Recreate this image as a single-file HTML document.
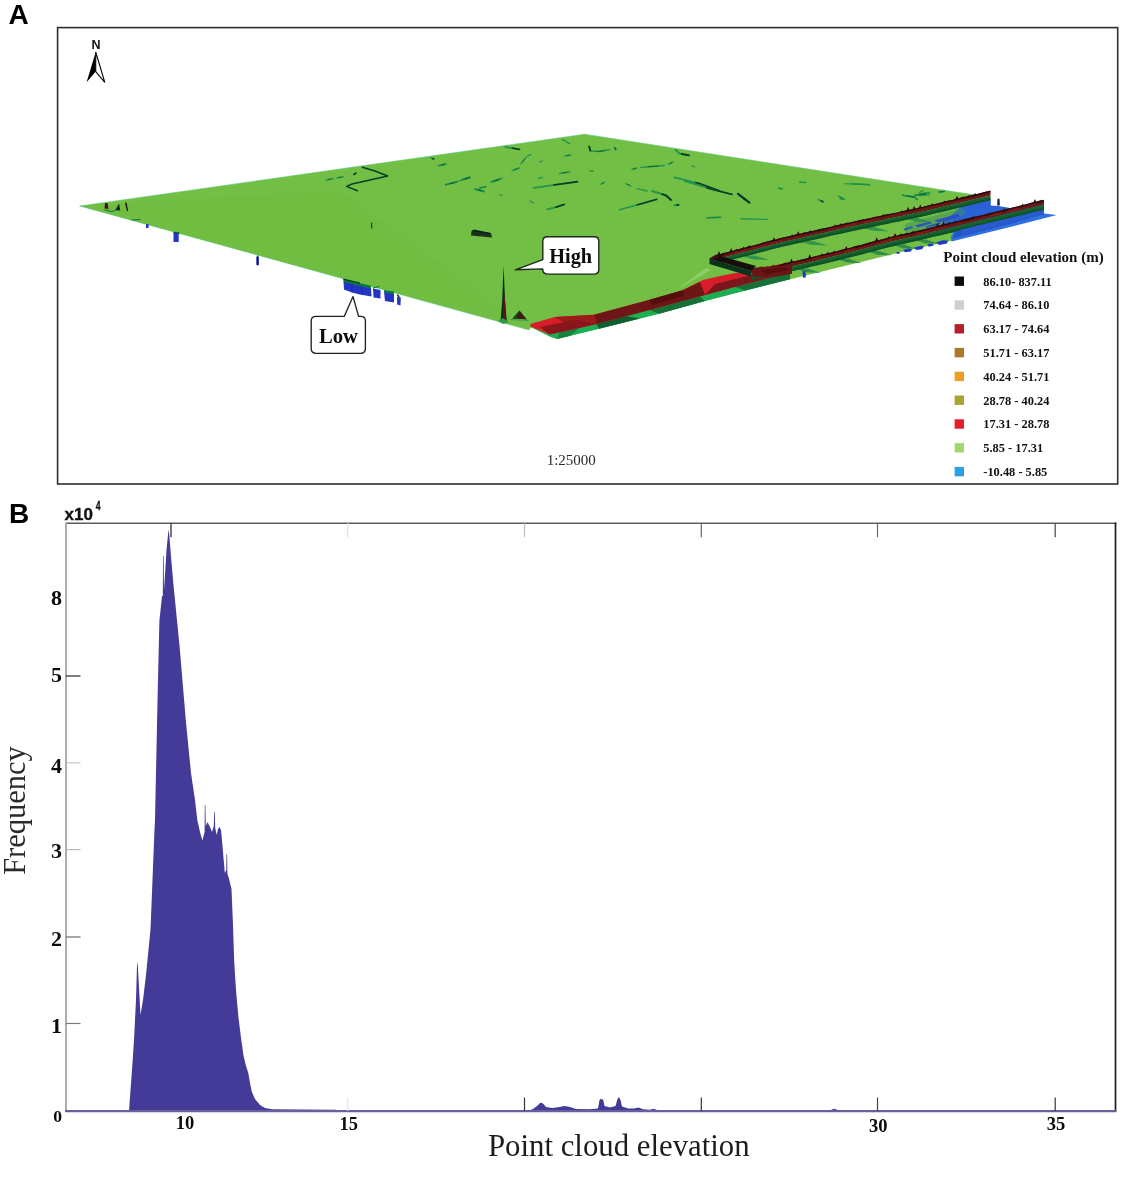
<!DOCTYPE html>
<html lang="en">
<head>
<meta charset="utf-8">
<title>Point cloud elevation figure</title>
<style>
  html,body{margin:0;padding:0;background:#fff;}
  body{width:1123px;height:1185px;overflow:hidden;}
  svg{display:block;}
  .serif{font-family:"Liberation Serif","Times New Roman",serif;}
  .sans{font-family:"Liberation Sans",Arial,sans-serif;}
  .b{font-weight:bold;}
</style>
</head>
<body>
<svg width="1123" height="1185" viewBox="0 0 1123 1185">
<defs>
  <filter id="soft" x="-5%" y="-5%" width="110%" height="110%"><feGaussianBlur stdDeviation="0.45"/></filter>
  <filter id="soft2" x="-5%" y="-5%" width="110%" height="110%"><feGaussianBlur stdDeviation="0.35"/></filter>
</defs>
<rect x="0" y="0" width="1123" height="1185" fill="#ffffff"/>

<!-- ================= PANEL A ================= -->
<text x="8.5" y="24" class="sans b" font-size="28" fill="#000">A</text>
<rect x="57.6" y="27.6" width="1060.1" height="456.4" fill="none" stroke="#2e2e2e" stroke-width="1.6"/>

<!-- north arrow -->
<g id="north">
  <text x="96" y="48.5" class="sans b" font-size="12.5" text-anchor="middle" fill="#111">N</text>
  <path d="M95.7 52 L86.6 82.3 L95.7 71.5 Z" fill="#000"/>
  <path d="M95.7 52 L104.8 82.3 L95.7 71.5 Z" fill="#fff" stroke="#000" stroke-width="1.1" stroke-linejoin="miter"/>
</g>

<!-- terrain -->
<g id="terrain" filter="url(#soft)">
<polygon points="80.0,206.0 584.6,134.2 972.0,194.5 989.0,199.0 989.0,214.0 955.0,240.0 910.0,250.0 780.0,281.7 705.0,301.0 659.0,313.7 599.0,328.7 557.0,339.0 549.0,335.6 531.0,327.6 529.4,329.8" fill="#73bf45" />
<polygon points="80.0,206.0 340.0,190.0 529.0,330.0" fill="#6fbb41" opacity="0.5"/>
<polyline points="80.0,206.0 584.6,134.2 975.0,195.0" fill="none" stroke="#58c878" stroke-width="0.8" stroke-linecap="round" stroke-linejoin="round" opacity="0.7"/>
<polyline points="80.0,206.0 529.0,330.0" fill="none" stroke="#48c070" stroke-width="0.8" stroke-linecap="round" stroke-linejoin="round" opacity="0.7"/>
<polygon points="706.0,268.0 711.0,270.0 692.0,281.0 676.0,290.0" fill="#a4d98a" opacity="0.55"/>
<polyline points="362.3,167.2 375.0,171.0 387.7,176.0 370.0,180.0 352.0,184.0 346.6,186.4 357.4,190.7" fill="none" stroke="#0a3d28" stroke-width="1.5" stroke-linecap="round" stroke-linejoin="round" />
<polyline points="326.0,180.0 333.0,178.7" fill="none" stroke="#178c50" stroke-width="1.5" stroke-linecap="round" stroke-linejoin="round" opacity="0.85"/>
<polyline points="326.0,180.0 333.0,178.7" fill="none" stroke="#0b5a34" stroke-width="0.8" stroke-linecap="butt" stroke-linejoin="round" stroke-dasharray="0 2.1 3.2 7.1"/>
<polyline points="337.0,178.0 343.0,176.8" fill="none" stroke="#178c50" stroke-width="1.5" stroke-linecap="round" stroke-linejoin="round" opacity="0.85"/>
<polyline points="337.0,178.0 343.0,176.8" fill="none" stroke="#0b5a34" stroke-width="0.8" stroke-linecap="butt" stroke-linejoin="round" stroke-dasharray="0 1.8 2.8 6.1"/>
<polyline points="354.0,174.5 356.0,173.0" fill="none" stroke="#0a3d28" stroke-width="1.6" stroke-linecap="round" stroke-linejoin="round" />
<polyline points="438.7,165.8 446.0,164.3" fill="none" stroke="#178c50" stroke-width="1.6" stroke-linecap="round" stroke-linejoin="round" opacity="0.85"/>
<polyline points="438.7,165.8 446.0,164.3" fill="none" stroke="#0b5a34" stroke-width="0.8800000000000001" stroke-linecap="butt" stroke-linejoin="round" stroke-dasharray="0 2.2 3.4 7.5"/>
<polyline points="445.6,184.8 457.0,182.0" fill="none" stroke="#178c50" stroke-width="1.6" stroke-linecap="round" stroke-linejoin="round" opacity="0.85"/>
<polyline points="445.6,184.8 457.0,182.0" fill="none" stroke="#0b5a34" stroke-width="0.8800000000000001" stroke-linecap="butt" stroke-linejoin="round" stroke-dasharray="0 3.5 5.3 11.7"/>
<polyline points="461.0,180.5 470.0,177.3" fill="none" stroke="#178c50" stroke-width="1.7" stroke-linecap="round" stroke-linejoin="round" opacity="0.85"/>
<polyline points="461.0,180.5 470.0,177.3" fill="none" stroke="#083a26" stroke-width="1.5" stroke-linecap="butt" stroke-linejoin="round" stroke-dasharray="0 4.3 5.7"/>
<polyline points="475.0,188.8 483.7,191.0" fill="none" stroke="#178c50" stroke-width="1.6" stroke-linecap="round" stroke-linejoin="round" opacity="0.85"/>
<polyline points="475.0,188.8 483.7,191.0" fill="none" stroke="#0b5a34" stroke-width="0.8800000000000001" stroke-linecap="butt" stroke-linejoin="round" stroke-dasharray="0 2.7 4.0 9.0"/>
<polyline points="480.0,188.0 486.0,186.5" fill="none" stroke="#178c50" stroke-width="1.4" stroke-linecap="round" stroke-linejoin="round" opacity="0.85"/>
<polyline points="491.6,182.0 500.0,179.5" fill="none" stroke="#178c50" stroke-width="1.5" stroke-linecap="round" stroke-linejoin="round" opacity="0.85"/>
<polyline points="491.6,182.0 500.0,179.5" fill="none" stroke="#0b5a34" stroke-width="0.8" stroke-linecap="butt" stroke-linejoin="round" stroke-dasharray="0 2.6 3.9 8.8"/>
<polyline points="371.7,223.0 371.7,228.0" fill="none" stroke="#123" stroke-width="1.0" stroke-linecap="round" stroke-linejoin="round" />
<polyline points="431.0,158.0 434.0,159.0" fill="none" stroke="#178c50" stroke-width="1.8" stroke-linecap="round" stroke-linejoin="round" opacity="0.85"/>
<polyline points="431.0,158.0 434.0,159.0" fill="none" stroke="#083a26" stroke-width="1.6" stroke-linecap="butt" stroke-linejoin="round" stroke-dasharray="0 1.4 1.9"/>
<polyline points="505.3,146.9 519.8,149.4" fill="none" stroke="#178c50" stroke-width="1.7" stroke-linecap="round" stroke-linejoin="round" opacity="0.85"/>
<polyline points="505.3,146.9 519.8,149.4" fill="none" stroke="#083a26" stroke-width="1.5" stroke-linecap="butt" stroke-linejoin="round" stroke-dasharray="0 6.6 8.8"/>
<polyline points="440.0,165.4 445.5,163.6" fill="none" stroke="#178c50" stroke-width="1.5" stroke-linecap="round" stroke-linejoin="round" opacity="0.85"/>
<polyline points="440.0,165.4 445.5,163.6" fill="none" stroke="#0b5a34" stroke-width="0.8" stroke-linecap="butt" stroke-linejoin="round" stroke-dasharray="0 1.7 2.6 5.8"/>
<polyline points="445.5,184.8 458.7,181.1" fill="none" stroke="#178c50" stroke-width="1.5" stroke-linecap="round" stroke-linejoin="round" opacity="0.85"/>
<polyline points="445.5,184.8 458.7,181.1" fill="none" stroke="#0b5a34" stroke-width="0.8" stroke-linecap="butt" stroke-linejoin="round" stroke-dasharray="0 4.1 6.2 13.7"/>
<polyline points="461.2,179.8 469.9,177.3" fill="none" stroke="#178c50" stroke-width="1.5" stroke-linecap="round" stroke-linejoin="round" opacity="0.85"/>
<polyline points="461.2,179.8 469.9,177.3" fill="none" stroke="#0b5a34" stroke-width="0.8" stroke-linecap="butt" stroke-linejoin="round" stroke-dasharray="0 2.7 4.1 9.1"/>
<polyline points="474.9,189.3 484.4,191.8" fill="none" stroke="#178c50" stroke-width="1.5" stroke-linecap="round" stroke-linejoin="round" opacity="0.85"/>
<polyline points="474.9,189.3 484.4,191.8" fill="none" stroke="#0b5a34" stroke-width="0.8" stroke-linecap="butt" stroke-linejoin="round" stroke-dasharray="0 2.9 4.4 9.8"/>
<polyline points="479.9,187.8 486.1,186.6" fill="none" stroke="#178c50" stroke-width="1.3" stroke-linecap="round" stroke-linejoin="round" opacity="0.85"/>
<polyline points="491.1,181.8 502.3,178.1" fill="none" stroke="#178c50" stroke-width="1.5" stroke-linecap="round" stroke-linejoin="round" opacity="0.85"/>
<polyline points="491.1,181.8 502.3,178.1" fill="none" stroke="#0b5a34" stroke-width="0.8" stroke-linecap="butt" stroke-linejoin="round" stroke-dasharray="0 3.5 5.3 11.8"/>
<polyline points="512.3,170.6 519.3,167.9" fill="none" stroke="#178c50" stroke-width="1.6" stroke-linecap="round" stroke-linejoin="round" opacity="0.85"/>
<polyline points="512.3,170.6 519.3,167.9" fill="none" stroke="#0b5a34" stroke-width="0.8800000000000001" stroke-linecap="butt" stroke-linejoin="round" stroke-dasharray="0 2.3 3.4 7.5"/>
<polyline points="521.0,163.6 526.0,157.4" fill="none" stroke="#178c50" stroke-width="1.5" stroke-linecap="round" stroke-linejoin="round" opacity="0.85"/>
<polyline points="521.0,163.6 526.0,157.4" fill="none" stroke="#0b5a34" stroke-width="0.8" stroke-linecap="butt" stroke-linejoin="round" stroke-dasharray="0 2.4 3.6 8.0"/>
<polyline points="527.3,156.1 531.0,154.4" fill="none" stroke="#178c50" stroke-width="1.3" stroke-linecap="round" stroke-linejoin="round" opacity="0.85"/>
<polyline points="533.5,187.8 549.7,185.6 569.7,182.8 577.7,181.6" fill="none" stroke="#178c50" stroke-width="1.8" stroke-linecap="round" stroke-linejoin="round" opacity="0.85"/>
<polyline points="533.5,187.8 549.7,185.6 569.7,182.8 577.7,181.6" fill="none" stroke="#083a26" stroke-width="1.6" stroke-linecap="butt" stroke-linejoin="round" stroke-dasharray="0 20.1 26.7"/>
<polyline points="547.2,209.3 557.2,206.8 564.7,204.3" fill="none" stroke="#178c50" stroke-width="1.8" stroke-linecap="round" stroke-linejoin="round" opacity="0.85"/>
<polyline points="547.2,209.3 557.2,206.8 564.7,204.3" fill="none" stroke="#083a26" stroke-width="1.6" stroke-linecap="butt" stroke-linejoin="round" stroke-dasharray="0 8.2 10.9"/>
<polyline points="559.7,173.6 569.7,171.8" fill="none" stroke="#178c50" stroke-width="1.5" stroke-linecap="round" stroke-linejoin="round" opacity="0.85"/>
<polyline points="559.7,173.6 569.7,171.8" fill="none" stroke="#0b5a34" stroke-width="0.8" stroke-linecap="butt" stroke-linejoin="round" stroke-dasharray="0 3.0 4.6 10.1"/>
<polyline points="564.7,156.1 570.9,154.9" fill="none" stroke="#178c50" stroke-width="1.5" stroke-linecap="round" stroke-linejoin="round" opacity="0.85"/>
<polyline points="564.7,156.1 570.9,154.9" fill="none" stroke="#0b5a34" stroke-width="0.8" stroke-linecap="butt" stroke-linejoin="round" stroke-dasharray="0 1.9 2.9 6.4"/>
<polyline points="562.2,139.4 569.7,143.7" fill="none" stroke="#178c50" stroke-width="1.4" stroke-linecap="round" stroke-linejoin="round" opacity="0.85"/>
<polyline points="590.4,151.1 599.6,151.4 609.6,149.4" fill="none" stroke="#178c50" stroke-width="1.5" stroke-linecap="round" stroke-linejoin="round" opacity="0.85"/>
<polyline points="590.4,151.1 599.6,151.4 609.6,149.4" fill="none" stroke="#0b5a34" stroke-width="0.8" stroke-linecap="butt" stroke-linejoin="round" stroke-dasharray="0 5.8 8.7 19.4"/>
<polyline points="614.6,147.4 615.8,149.4" fill="none" stroke="#178c50" stroke-width="1.9" stroke-linecap="round" stroke-linejoin="round" opacity="0.85"/>
<polyline points="614.6,147.4 615.8,149.4" fill="none" stroke="#083a26" stroke-width="1.7" stroke-linecap="butt" stroke-linejoin="round" stroke-dasharray="0 1.1 1.4"/>
<polyline points="589.6,170.6 593.4,171.3" fill="none" stroke="#178c50" stroke-width="1.4" stroke-linecap="round" stroke-linejoin="round" opacity="0.85"/>
<polyline points="600.8,184.1 604.6,182.3" fill="none" stroke="#178c50" stroke-width="1.5" stroke-linecap="round" stroke-linejoin="round" opacity="0.85"/>
<polyline points="600.8,184.1 604.6,182.3" fill="none" stroke="#0b5a34" stroke-width="0.8" stroke-linecap="butt" stroke-linejoin="round" stroke-dasharray="0 1.2 1.9 4.1"/>
<polyline points="619.6,209.8 639.5,204.3 657.0,199.3" fill="none" stroke="#178c50" stroke-width="1.7" stroke-linecap="round" stroke-linejoin="round" opacity="0.85"/>
<polyline points="619.6,209.8 639.5,204.3 657.0,199.3" fill="none" stroke="#083a26" stroke-width="1.5" stroke-linecap="butt" stroke-linejoin="round" stroke-dasharray="0 17.5 23.3"/>
<polyline points="652.0,191.0 665.7,195.3 671.4,200.3" fill="none" stroke="#178c50" stroke-width="2.0" stroke-linecap="round" stroke-linejoin="round" opacity="0.85"/>
<polyline points="652.0,191.0 665.7,195.3 671.4,200.3" fill="none" stroke="#083a26" stroke-width="1.8" stroke-linecap="butt" stroke-linejoin="round" stroke-dasharray="0 9.9 13.2"/>
<polyline points="625.8,183.6 630.8,186.1" fill="none" stroke="#178c50" stroke-width="1.5" stroke-linecap="round" stroke-linejoin="round" opacity="0.85"/>
<polyline points="625.8,183.6 630.8,186.1" fill="none" stroke="#0b5a34" stroke-width="0.8" stroke-linecap="butt" stroke-linejoin="round" stroke-dasharray="0 1.7 2.5 5.6"/>
<polyline points="637.0,188.6 647.0,191.0" fill="none" stroke="#178c50" stroke-width="1.3" stroke-linecap="round" stroke-linejoin="round" opacity="0.85"/>
<polyline points="632.0,169.4 637.0,168.1" fill="none" stroke="#178c50" stroke-width="1.5" stroke-linecap="round" stroke-linejoin="round" opacity="0.85"/>
<polyline points="632.0,169.4 637.0,168.1" fill="none" stroke="#0b5a34" stroke-width="0.8" stroke-linecap="butt" stroke-linejoin="round" stroke-dasharray="0 1.5 2.3 5.1"/>
<polyline points="640.7,167.4 664.4,165.4" fill="none" stroke="#178c50" stroke-width="1.5" stroke-linecap="round" stroke-linejoin="round" opacity="0.85"/>
<polyline points="640.7,167.4 664.4,165.4" fill="none" stroke="#0b5a34" stroke-width="0.8" stroke-linecap="butt" stroke-linejoin="round" stroke-dasharray="0 7.1 10.7 23.8"/>
<polyline points="668.2,164.4 673.2,161.9" fill="none" stroke="#178c50" stroke-width="1.5" stroke-linecap="round" stroke-linejoin="round" opacity="0.85"/>
<polyline points="668.2,164.4 673.2,161.9" fill="none" stroke="#0b5a34" stroke-width="0.8" stroke-linecap="butt" stroke-linejoin="round" stroke-dasharray="0 1.7 2.5 5.6"/>
<polyline points="674.4,177.3 699.4,183.6 720.0,191.0" fill="none" stroke="#178c50" stroke-width="1.8" stroke-linecap="round" stroke-linejoin="round" opacity="0.85"/>
<polyline points="674.4,177.3 699.4,183.6 720.0,191.0" fill="none" stroke="#083a26" stroke-width="1.6" stroke-linecap="butt" stroke-linejoin="round" stroke-dasharray="0 21.5 28.6"/>
<polyline points="675.7,149.9 679.4,153.6 689.4,155.4" fill="none" stroke="#178c50" stroke-width="2.0" stroke-linecap="round" stroke-linejoin="round" opacity="0.85"/>
<polyline points="675.7,149.9 679.4,153.6 689.4,155.4" fill="none" stroke="#083a26" stroke-width="1.8" stroke-linecap="butt" stroke-linejoin="round" stroke-dasharray="0 6.9 9.3"/>
<polyline points="706.8,217.7 720.0,217.2" fill="none" stroke="#178c50" stroke-width="1.5" stroke-linecap="round" stroke-linejoin="round" opacity="0.85"/>
<polyline points="706.8,217.7 720.0,217.2" fill="none" stroke="#0b5a34" stroke-width="0.8" stroke-linecap="butt" stroke-linejoin="round" stroke-dasharray="0 4.0 6.0 13.2"/>
<polyline points="674.4,205.3 678.9,204.8" fill="none" stroke="#178c50" stroke-width="1.9" stroke-linecap="round" stroke-linejoin="round" opacity="0.85"/>
<polyline points="674.4,205.3 678.9,204.8" fill="none" stroke="#083a26" stroke-width="1.7" stroke-linecap="butt" stroke-linejoin="round" stroke-dasharray="0 2.0 2.7"/>
<polyline points="538.5,178.6 542.2,177.3" fill="none" stroke="#178c50" stroke-width="1.4" stroke-linecap="round" stroke-linejoin="round" opacity="0.85"/>
<polyline points="539.8,161.9 542.2,161.1" fill="none" stroke="#178c50" stroke-width="1.4" stroke-linecap="round" stroke-linejoin="round" opacity="0.85"/>
<polyline points="529.8,201.0 533.5,202.8" fill="none" stroke="#178c50" stroke-width="1.3" stroke-linecap="round" stroke-linejoin="round" opacity="0.85"/>
<polyline points="499.9,194.8 502.3,195.5" fill="none" stroke="#178c50" stroke-width="1.3" stroke-linecap="round" stroke-linejoin="round" opacity="0.85"/>
<polyline points="691.9,166.1 694.4,166.6" fill="none" stroke="#178c50" stroke-width="1.4" stroke-linecap="round" stroke-linejoin="round" opacity="0.85"/>
<polyline points="685.0,181.2 709.9,188.7 732.4,194.5" fill="none" stroke="#178c50" stroke-width="1.8" stroke-linecap="round" stroke-linejoin="round" opacity="0.85"/>
<polyline points="685.0,181.2 709.9,188.7 732.4,194.5" fill="none" stroke="#083a26" stroke-width="1.6" stroke-linecap="butt" stroke-linejoin="round" stroke-dasharray="0 22.1 29.5"/>
<polyline points="738.6,194.5 745.3,199.5 749.8,202.9" fill="none" stroke="#178c50" stroke-width="2.3" stroke-linecap="round" stroke-linejoin="round" opacity="0.85"/>
<polyline points="738.6,194.5 745.3,199.5 749.8,202.9" fill="none" stroke="#083a26" stroke-width="2.1" stroke-linecap="butt" stroke-linejoin="round" stroke-dasharray="0 6.3 8.4"/>
<polyline points="707.4,217.9 721.1,217.4" fill="none" stroke="#178c50" stroke-width="1.4" stroke-linecap="round" stroke-linejoin="round" opacity="0.85"/>
<polyline points="741.1,218.7 767.3,219.4" fill="none" stroke="#178c50" stroke-width="1.4" stroke-linecap="round" stroke-linejoin="round" opacity="0.85"/>
<polyline points="778.5,188.0 782.2,189.0" fill="none" stroke="#178c50" stroke-width="1.5" stroke-linecap="round" stroke-linejoin="round" opacity="0.85"/>
<polyline points="778.5,188.0 782.2,189.0" fill="none" stroke="#0b5a34" stroke-width="0.8" stroke-linecap="butt" stroke-linejoin="round" stroke-dasharray="0 1.2 1.7 3.9"/>
<polyline points="799.7,182.0 805.9,182.5" fill="none" stroke="#178c50" stroke-width="1.4" stroke-linecap="round" stroke-linejoin="round" opacity="0.85"/>
<polyline points="818.4,199.5 823.4,201.9" fill="none" stroke="#178c50" stroke-width="1.7" stroke-linecap="round" stroke-linejoin="round" opacity="0.85"/>
<polyline points="818.4,199.5 823.4,201.9" fill="none" stroke="#083a26" stroke-width="1.5" stroke-linecap="butt" stroke-linejoin="round" stroke-dasharray="0 2.5 3.3"/>
<polyline points="838.4,196.2 844.6,199.5" fill="none" stroke="#178c50" stroke-width="1.5" stroke-linecap="round" stroke-linejoin="round" opacity="0.85"/>
<polyline points="838.4,196.2 844.6,199.5" fill="none" stroke="#0b5a34" stroke-width="0.8" stroke-linecap="butt" stroke-linejoin="round" stroke-dasharray="0 2.1 3.2 7.0"/>
<polyline points="852.1,183.7 869.5,184.5" fill="none" stroke="#178c50" stroke-width="1.4" stroke-linecap="round" stroke-linejoin="round" opacity="0.85"/>
<polyline points="903.2,195.5 914.4,197.0 916.9,199.5" fill="none" stroke="#178c50" stroke-width="1.5" stroke-linecap="round" stroke-linejoin="round" opacity="0.85"/>
<polyline points="903.2,195.5 914.4,197.0 916.9,199.5" fill="none" stroke="#0b5a34" stroke-width="0.8" stroke-linecap="butt" stroke-linejoin="round" stroke-dasharray="0 4.5 6.7 14.8"/>
<polyline points="914.4,195.5 929.4,194.5" fill="none" stroke="#178c50" stroke-width="1.5" stroke-linecap="round" stroke-linejoin="round" opacity="0.85"/>
<polyline points="914.4,195.5 929.4,194.5" fill="none" stroke="#0b5a34" stroke-width="0.8" stroke-linecap="butt" stroke-linejoin="round" stroke-dasharray="0 4.5 6.7 15.0"/>
<polyline points="919.4,192.5 923.1,190.5" fill="none" stroke="#178c50" stroke-width="1.4" stroke-linecap="round" stroke-linejoin="round" opacity="0.85"/>
<polyline points="939.4,192.5 944.3,191.2" fill="none" stroke="#178c50" stroke-width="1.5" stroke-linecap="round" stroke-linejoin="round" opacity="0.85"/>
<polyline points="939.4,192.5 944.3,191.2" fill="none" stroke="#0b5a34" stroke-width="0.8" stroke-linecap="butt" stroke-linejoin="round" stroke-dasharray="0 1.5 2.3 5.1"/>
<polyline points="845.0,183.7 869.9,184.9" fill="none" stroke="#178c50" stroke-width="1.3" stroke-linecap="round" stroke-linejoin="round" opacity="0.85"/>
<polyline points="902.3,194.9 914.8,197.4 917.3,199.4" fill="none" stroke="#178c50" stroke-width="1.5" stroke-linecap="round" stroke-linejoin="round" opacity="0.85"/>
<polyline points="902.3,194.9 914.8,197.4 917.3,199.4" fill="none" stroke="#0b5a34" stroke-width="0.8" stroke-linecap="butt" stroke-linejoin="round" stroke-dasharray="0 4.8 7.2 15.9"/>
<polyline points="914.8,194.9 929.8,192.4" fill="none" stroke="#178c50" stroke-width="1.5" stroke-linecap="round" stroke-linejoin="round" opacity="0.85"/>
<polyline points="914.8,194.9 929.8,192.4" fill="none" stroke="#0b5a34" stroke-width="0.8" stroke-linecap="butt" stroke-linejoin="round" stroke-dasharray="0 4.6 6.8 15.2"/>
<polyline points="938.5,191.9 944.7,191.2" fill="none" stroke="#178c50" stroke-width="1.5" stroke-linecap="round" stroke-linejoin="round" opacity="0.85"/>
<polyline points="938.5,191.9 944.7,191.2" fill="none" stroke="#0b5a34" stroke-width="0.8" stroke-linecap="butt" stroke-linejoin="round" stroke-dasharray="0 1.9 2.8 6.3"/>
<polyline points="840.0,198.7 843.7,199.4" fill="none" stroke="#178c50" stroke-width="1.4" stroke-linecap="round" stroke-linejoin="round" opacity="0.85"/>
<polyline points="589.1,145.7 590.4,151.1" fill="none" stroke="#0a2e20" stroke-width="1.7" stroke-linecap="butt" stroke-linejoin="round" />
<polyline points="737.9,193.7 745.3,199.5" fill="none" stroke="#0a2e20" stroke-width="2.0" stroke-linecap="round" stroke-linejoin="round" />
<polygon points="104.5,208.5 105.0,203.0 107.5,203.0 108.5,209.0" fill="#4a1020" />
<polyline points="105.0,210.0 112.0,211.5 118.0,209.5" fill="none" stroke="#0b7a3a" stroke-width="1" stroke-linecap="round" stroke-linejoin="round" />
<polygon points="115.5,210.0 119.0,203.5 120.3,210.5" fill="#102018" />
<polygon points="125.0,203.0 127.0,211.0 128.2,211.0 126.5,202.5" fill="#101810" />
<polyline points="132.0,220.0 140.0,219.5" fill="none" stroke="#0b7a3a" stroke-width="1" stroke-linecap="round" stroke-linejoin="round" />
<polygon points="471.5,231.0 474.0,229.5 491.0,233.0 492.0,237.5 471.0,235.5" fill="#16301e" />
<polyline points="473.0,230.5 490.0,233.5" fill="none" stroke="#0c1c12" stroke-width="1.2" stroke-linecap="round" stroke-linejoin="round" />
<rect x="146" y="224" width="2.6" height="4" rx="0.6" fill="#2434c4"/>
<rect x="173.5" y="232" width="5.2" height="10" rx="0.6" fill="#2434c4"/>
<polyline points="174.0,232.5 179.0,233.5" fill="none" stroke="#106030" stroke-width="1.3" stroke-linecap="round" stroke-linejoin="round" />
<rect x="256.3" y="256.5" width="2.6" height="8.5" rx="0.6" fill="#1c2aa0"/>
<polyline points="257.6,256.0 257.6,265.0" fill="none" stroke="#10185a" stroke-width="1.0" stroke-linecap="round" stroke-linejoin="round" />
<polygon points="343.5,281.0 371.0,288.0 371.5,296.5 360.0,294.5 352.0,292.5 344.0,289.5" fill="#2434c4" />
<polygon points="343.3,279.0 371.0,285.7 371.0,288.5 343.5,282.0" fill="#0e7a3a" />
<polygon points="343.3,278.6 360.0,282.5 360.0,283.7 343.3,279.8" fill="#083818" />
<polygon points="373.0,288.5 380.5,290.0 380.5,298.5 373.5,297.5" fill="#2434c4" />
<polyline points="373.0,288.0 379.0,286.5" fill="none" stroke="#0e7a3a" stroke-width="1.2" stroke-linecap="round" stroke-linejoin="round" />
<polygon points="384.0,291.5 394.0,293.5 394.0,302.5 385.0,301.0" fill="#2434c4" />
<polygon points="384.0,290.0 394.0,291.5 394.0,294.0 384.0,292.2" fill="#0e7a3a" />
<polygon points="397.0,296.5 400.8,297.5 400.5,305.5 397.2,304.5" fill="#2434c4" />
<polyline points="397.5,295.0 399.0,296.5" fill="none" stroke="#083818" stroke-width="1.2" stroke-linecap="round" stroke-linejoin="round" />
<polyline points="352.0,284.0 352.0,292.0" fill="none" stroke="#1a2490" stroke-width="1.0" stroke-linecap="round" stroke-linejoin="round" opacity="0.7"/>
<polyline points="362.0,286.0 362.0,294.5" fill="none" stroke="#1a2490" stroke-width="1.0" stroke-linecap="round" stroke-linejoin="round" opacity="0.7"/>
<polygon points="503.6,265.0 502.2,300.0 500.5,322.0 506.8,322.0 505.0,300.0" fill="#0f2a18" />
<polygon points="503.6,290.0 503.0,322.0 506.5,322.0 505.0,300.0" fill="#5a1418" />
<polygon points="498.0,321.0 503.0,318.0 509.0,322.0 503.0,324.0" fill="#2e9a48" />
<polygon points="519.5,310.5 512.5,318.5 527.0,319.5" fill="#3a1a14" />
<polygon points="519.5,310.5 516.0,318.8 512.5,318.5" fill="#14502a" />
<polyline points="511.0,319.5 528.0,320.5" fill="none" stroke="#2ea050" stroke-width="1.2" stroke-linecap="round" stroke-linejoin="round" />
<polygon points="530.4,326.4 550.0,334.5 596.4,324.0 649.6,310.0 705.0,295.0 751.5,282.4 790.0,272.5 790.0,279.3 780.0,281.7 705.0,301.0 659.0,313.7 599.0,328.7 557.0,339.0 550.0,336.8" fill="#1fae52" />
<polygon points="596.4,324.0 625.0,316.0 640.0,318.5 599.0,328.7" fill="#0f5e30" />
<polygon points="649.6,310.0 700.0,296.5 705.0,301.0 659.0,313.7" fill="#127038" />
<polygon points="560.0,332.0 580.0,327.5 570.0,335.8 557.0,339.0" fill="#15803c" />
<polygon points="735.0,286.8 790.0,272.5 790.0,279.3 745.0,290.5" fill="#127038" />
<polygon points="530.4,324.0 554.7,317.0 594.0,314.8 649.6,299.8 682.0,290.5 702.9,280.0 728.3,274.3 751.5,270.4 790.0,262.0 790.0,272.5 751.5,282.4 705.0,295.0 649.6,310.0 596.4,324.0 550.0,334.5 530.4,326.4" fill="#d81f2a" />
<polygon points="594.0,314.8 649.6,299.8 682.0,290.5 700.0,282.0 705.0,295.0 649.6,310.0 596.4,324.0" fill="#6e1518" />
<polygon points="554.7,317.0 594.0,314.8 596.4,324.0 575.0,328.8" fill="#9c1a1f" />
<polygon points="540.0,327.0 575.0,320.0 596.4,324.0 550.0,334.5" fill="#8a181c" />
<polygon points="715.0,284.0 751.5,275.0 790.0,266.5 790.0,272.5 751.5,282.4 705.0,295.0" fill="#7a171b" />
<polygon points="649.6,299.8 682.0,290.5 684.0,296.0 652.0,305.0" fill="#54100f" />
<polygon points="958.0,209.0 965.0,204.0 990.5,199.0 990.5,205.5 998.5,206.0 1010.0,208.0 1044.0,205.0 1044.0,214.0 960.0,234.0 935.0,230.0" fill="#2a62d8" />
<polygon points="905.0,224.0 962.0,208.0 966.0,213.0 930.0,231.0 905.0,232.0" fill="#3f8f5a" opacity="0.55"/>
<polygon points="1044.0,204.0 1044.0,213.5 1056.8,215.0 1010.0,227.0 951.5,241.6 951.0,236.0 960.0,226.0" fill="#2f6fe0" />
<polygon points="955.0,232.0 1044.0,210.0 1044.0,214.0 1010.0,224.0 953.0,238.5" fill="#2455c8" />
<polygon points="903.0,250.0 908.0,248.6 912.0,249.0 911.0,251.5 905.0,252.3" fill="#2438c8" />
<polygon points="914.0,247.6 921.0,245.8 924.0,246.5 922.0,249.2 916.0,250.0" fill="#2438c8" />
<polygon points="927.0,244.6 932.0,243.2 934.0,245.5 929.0,246.8" fill="#2438c8" />
<polygon points="936.0,242.2 943.0,240.2 948.0,240.6 947.0,243.6 939.0,245.0" fill="#2438c8" />
<polygon points="896.0,252.5 899.0,251.8 900.0,253.6 897.0,254.0" fill="#2438c8" />
<polygon points="802.5,271.0 805.5,270.5 805.8,277.5 803.0,277.8" fill="#2438c8" />
<polygon points="903.0,229.0 912.0,226.3 913.0,227.8 905.0,230.5" fill="#2a48cc" opacity="0.9"/>
<polygon points="915.0,225.6 930.0,221.5 932.0,223.2 918.0,227.3" fill="#2a48cc" opacity="0.9"/>
<polygon points="934.0,220.6 958.0,213.8 960.0,216.5 948.0,220.5 938.0,222.6" fill="#2a48cc" opacity="0.9"/>
<polygon points="925.0,226.5 940.0,222.5 941.0,224.0 927.0,228.0" fill="#2a48cc" opacity="0.9"/>
<polygon points="742.0,256.3 754.6,255.6 770.0,260.0 753.2,259.4" fill="#2f8f4c" opacity="0.9"/>
<polygon points="800.0,241.7 812.6,241.0 828.0,245.4 811.2,244.8" fill="#2f8f4c" opacity="0.9"/>
<polygon points="862.0,227.7 874.6,227.0 890.0,231.4 873.2,230.8" fill="#2f8f4c" opacity="0.9"/>
<polygon points="905.0,218.7 917.6,218.0 933.0,222.4 916.2,221.8" fill="#2f8f4c" opacity="0.9"/>
<polygon points="797.0,269.2 807.8,268.5 821.0,272.9 806.6,272.3" fill="#2a8646" opacity="0.9"/>
<polygon points="838.0,259.5 848.8,258.8 862.0,263.2 847.6,262.6" fill="#2a8646" opacity="0.9"/>
<polygon points="868.0,251.6 878.8,250.9 892.0,255.3 877.6,254.7" fill="#2a8646" opacity="0.9"/>
<polygon points="893.0,245.1 903.8,244.4 917.0,248.8 902.6,248.2" fill="#2a8646" opacity="0.9"/>
<polygon points="915.0,240.1 925.8,239.4 939.0,243.8 924.6,243.2" fill="#2a8646" opacity="0.9"/>
<polygon points="716.0,255.2 722.1,253.6 728.2,252.0 734.3,250.4 740.4,248.8 746.5,247.1 752.6,245.5 758.7,243.9 764.8,242.3 770.9,240.7 777.0,239.1 783.1,237.6 789.2,236.2 795.3,234.8 801.4,233.4 807.5,232.0 813.6,230.6 819.7,229.2 825.8,227.9 831.9,226.5 838.0,225.1 844.1,223.7 850.2,222.3 856.3,220.9 862.4,219.6 868.5,218.4 874.6,217.1 880.7,215.8 886.8,214.5 892.9,213.2 899.0,211.9 905.1,210.6 911.2,209.4 917.3,208.1 923.4,206.7 929.5,205.2 935.6,203.8 941.7,202.3 947.8,200.8 953.9,199.4 960.0,197.9 966.1,196.4 972.2,195.0 978.3,193.5 984.4,192.1 990.5,190.6 990.5,195.4 984.4,196.9 978.3,198.3 972.2,199.8 966.1,201.2 960.0,202.7 953.9,204.1 947.8,205.6 941.7,207.0 935.6,208.5 929.5,209.9 923.4,211.4 917.3,212.7 911.2,214.0 905.1,215.3 899.0,216.6 892.9,217.8 886.8,219.1 880.7,220.4 874.6,221.7 868.5,222.9 862.4,224.2 856.3,225.5 850.2,226.8 844.1,228.2 838.0,229.6 831.9,231.0 825.8,232.4 819.7,233.7 813.6,235.1 807.5,236.5 801.4,237.9 795.3,239.3 789.2,240.6 783.1,242.0 777.0,243.5 770.9,245.1 764.8,246.7 758.7,248.3 752.6,249.9 746.5,251.5 740.4,253.1 734.3,254.7 728.2,256.3 722.1,257.9 716.0,259.5" fill="#6f1519" />
<polygon points="716.0,259.5 722.1,257.9 728.2,256.3 734.3,254.7 740.4,253.1 746.5,251.5 752.6,249.9 758.7,248.3 764.8,246.7 770.9,245.1 777.0,243.5 783.1,242.0 789.2,240.6 795.3,239.3 801.4,237.9 807.5,236.5 813.6,235.1 819.7,233.7 825.8,232.4 831.9,231.0 838.0,229.6 844.1,228.2 850.2,226.8 856.3,225.5 862.4,224.2 868.5,222.9 874.6,221.7 880.7,220.4 886.8,219.1 892.9,217.8 899.0,216.6 905.1,215.3 911.2,214.0 917.3,212.7 923.4,211.4 929.5,209.9 935.6,208.5 941.7,207.0 947.8,205.6 953.9,204.1 960.0,202.7 966.1,201.2 972.2,199.8 978.3,198.3 984.4,196.9 990.5,195.4 990.5,200.4 984.4,201.8 978.3,203.3 972.2,204.7 966.1,206.2 960.0,207.6 953.9,209.0 947.8,210.5 941.7,211.9 935.6,213.3 929.5,214.8 923.4,216.2 917.3,217.6 911.2,218.8 905.1,220.1 899.0,221.4 892.9,222.6 886.8,223.9 880.7,225.1 874.6,226.4 868.5,227.7 862.4,228.9 856.3,230.2 850.2,231.5 844.1,232.9 838.0,234.3 831.9,235.6 825.8,237.0 819.7,238.4 813.6,239.7 807.5,241.1 801.4,242.5 795.3,243.8 789.2,245.2 783.1,246.6 777.0,248.0 770.9,249.6 764.8,251.2 758.7,252.8 752.6,254.4 746.5,256.0 740.4,257.6 734.3,259.1 728.2,260.7 722.1,262.3 716.0,263.9" fill="#14622f" />
<polygon points="716.0,261.9 722.1,260.3 728.2,258.7 734.3,257.1 740.4,255.6 746.5,254.0 752.6,252.4 758.7,250.8 764.8,249.2 770.9,247.6 777.0,246.0 783.1,244.5 789.2,243.1 795.3,241.8 801.4,240.4 807.5,239.0 813.6,237.7 819.7,236.3 825.8,234.9 831.9,233.5 838.0,232.2 844.1,230.8 850.2,229.4 856.3,228.1 862.4,226.8 868.5,225.5 874.6,224.3 880.7,223.0 886.8,221.7 892.9,220.5 899.0,219.2 905.1,217.9 911.2,216.7 917.3,215.4 923.4,214.0 929.5,212.6 935.6,211.1 941.7,209.7 947.8,208.3 953.9,206.8 960.0,205.4 966.1,203.9 972.2,202.5 978.3,201.0 984.4,199.6 990.5,198.2 990.5,200.4 984.4,201.8 978.3,203.3 972.2,204.7 966.1,206.2 960.0,207.6 953.9,209.0 947.8,210.5 941.7,211.9 935.6,213.3 929.5,214.8 923.4,216.2 917.3,217.6 911.2,218.8 905.1,220.1 899.0,221.4 892.9,222.6 886.8,223.9 880.7,225.1 874.6,226.4 868.5,227.7 862.4,228.9 856.3,230.2 850.2,231.5 844.1,232.9 838.0,234.3 831.9,235.6 825.8,237.0 819.7,238.4 813.6,239.7 807.5,241.1 801.4,242.5 795.3,243.8 789.2,245.2 783.1,246.6 777.0,248.0 770.9,249.6 764.8,251.2 758.7,252.8 752.6,254.4 746.5,256.0 740.4,257.6 734.3,259.1 728.2,260.7 722.1,262.3 716.0,263.9" fill="#0e4f27" opacity="0.75"/>
<polygon points="716.0,257.1 716.0,255.1 717.6,254.4 719.0,251.0 720.4,254.4 722.1,253.3 728.2,251.9 729.9,251.2 731.2,248.0 732.6,251.2 734.3,250.1 736.4,249.6 737.3,248.7 738.2,249.6 740.4,248.5 742.6,248.0 743.5,246.5 744.4,248.0 746.5,246.9 748.6,246.3 749.5,245.0 750.4,246.3 752.6,245.9 758.7,243.9 764.8,242.0 770.9,240.6 772.6,239.9 774.0,237.2 775.4,239.9 777.0,239.0 783.1,237.4 789.2,236.3 791.4,235.5 792.2,234.3 793.1,235.5 795.3,234.6 796.9,234.1 798.3,231.3 799.7,234.1 801.4,233.6 803.6,232.7 804.5,231.7 805.4,232.7 807.5,232.1 809.6,231.3 810.5,230.3 811.4,231.3 813.6,230.9 819.7,229.1 825.8,227.9 831.9,226.7 834.1,225.8 835.0,224.2 835.9,225.8 838.0,224.9 840.1,224.4 841.0,223.0 841.9,224.4 844.1,223.5 846.3,223.0 847.2,222.2 848.1,223.0 850.2,222.5 856.3,221.0 862.4,219.6 868.5,218.5 874.6,217.1 880.7,216.1 882.9,215.1 883.8,213.8 884.6,215.1 886.8,214.2 892.9,213.4 899.0,212.2 901.1,211.3 902.0,210.2 902.9,211.3 905.1,210.8 906.8,210.0 908.2,206.8 909.6,210.0 911.2,209.2 912.9,208.7 914.2,206.0 915.6,208.7 917.3,208.3 918.9,207.4 920.3,204.5 921.7,207.4 923.4,206.7 929.5,205.0 931.6,204.5 932.5,203.3 933.4,204.5 935.6,204.1 941.7,202.6 943.9,201.6 944.8,200.4 945.6,201.6 947.8,200.8 953.9,199.7 955.6,198.6 957.0,195.8 958.4,198.6 960.0,197.8 962.1,197.2 963.0,196.0 963.9,197.2 966.1,196.6 968.3,195.7 969.2,194.9 970.1,195.7 972.2,195.0 974.4,194.3 975.2,193.0 976.1,194.3 978.3,193.9 984.4,192.1 990.5,190.8 990.5,192.5 990.5,191.8 984.4,194.1 978.3,195.4 972.2,197.0 966.1,198.4 960.0,199.5 953.9,200.9 947.8,202.1 941.7,204.1 935.6,205.0 929.5,206.5 923.4,208.1 917.3,209.4 911.2,210.9 905.1,211.9 899.0,213.1 892.9,214.5 886.8,215.8 880.7,217.3 874.6,218.3 868.5,220.3 862.4,221.4 856.3,222.3 850.2,223.7 844.1,225.2 838.0,226.6 831.9,227.8 825.8,229.8 819.7,231.3 813.6,232.3 807.5,233.7 801.4,234.7 795.3,236.1 789.2,237.7 783.1,239.0 777.0,241.0 770.9,242.0 764.8,243.5 758.7,246.0 752.6,247.2 746.5,248.5 740.4,250.4 734.3,251.6 728.2,253.7 722.1,255.7 716.0,257.2" fill="#2b0a0c" />
<polygon points="734.3,252.2 746.5,248.9 746.5,250.6 734.3,253.8" fill="#8e1a1f" opacity="0.7"/>
<polygon points="752.6,247.3 764.8,244.1 764.8,245.8 752.6,249.0" fill="#8e1a1f" opacity="0.7"/>
<polygon points="770.9,242.5 783.1,239.4 783.1,241.1 770.9,244.2" fill="#8e1a1f" opacity="0.7"/>
<polygon points="844.1,225.5 856.3,222.7 856.3,224.6 844.1,227.3" fill="#8e1a1f" opacity="0.7"/>
<polygon points="862.4,221.4 874.6,218.9 874.6,220.7 862.4,223.3" fill="#8e1a1f" opacity="0.7"/>
<polygon points="966.0,206.5 990.5,200.2 990.5,206.0 972.0,211.0" fill="#2a5fd6" />
<polygon points="752.0,270.5 758.1,269.2 764.2,267.9 770.2,266.7 776.3,265.4 782.4,264.0 788.5,262.6 794.6,261.1 800.7,259.7 806.8,258.2 812.8,256.8 818.9,255.3 825.0,253.9 831.1,252.4 837.2,251.0 843.2,249.5 849.3,247.9 855.4,246.3 861.5,244.7 867.6,243.0 873.7,241.4 879.8,239.8 885.8,238.2 891.9,236.6 898.0,235.2 904.1,233.9 910.2,232.5 916.2,231.1 922.3,229.7 928.4,228.2 934.5,226.7 940.6,225.2 946.7,223.7 952.8,222.2 958.8,220.7 964.9,219.3 971.0,217.8 977.1,216.3 983.2,214.8 989.2,213.3 995.3,211.8 1001.4,210.3 1007.5,208.8 1013.6,207.3 1019.7,205.8 1025.8,204.3 1031.8,202.8 1037.9,201.3 1044.0,199.8 1044.0,204.6 1037.9,206.1 1031.8,207.6 1025.8,209.1 1019.7,210.6 1013.6,212.1 1007.5,213.6 1001.4,215.0 995.3,216.5 989.2,218.0 983.2,219.5 977.1,221.0 971.0,222.5 964.9,224.0 958.8,225.5 952.8,227.0 946.7,228.5 940.6,230.0 934.5,231.5 928.4,233.0 922.3,234.4 916.2,235.9 910.2,237.2 904.1,238.6 898.0,239.9 891.9,241.3 885.8,242.9 879.8,244.5 873.7,246.1 867.6,247.7 861.5,249.3 855.4,250.9 849.3,252.5 843.2,254.1 837.2,255.6 831.1,257.1 825.0,258.5 818.9,260.0 812.8,261.4 806.8,262.9 800.7,264.3 794.6,265.7 788.5,267.2 782.4,268.6 776.3,270.0 770.2,271.3 764.2,272.5 758.1,273.8 752.0,275.1" fill="#6f1519" />
<polygon points="752.0,275.1 758.1,273.8 764.2,272.5 770.2,271.3 776.3,270.0 782.4,268.6 788.5,267.2 794.6,265.7 800.7,264.3 806.8,262.9 812.8,261.4 818.9,260.0 825.0,258.5 831.1,257.1 837.2,255.6 843.2,254.1 849.3,252.5 855.4,250.9 861.5,249.3 867.6,247.7 873.7,246.1 879.8,244.5 885.8,242.9 891.9,241.3 898.0,239.9 904.1,238.6 910.2,237.2 916.2,235.9 922.3,234.4 928.4,233.0 934.5,231.5 940.6,230.0 946.7,228.5 952.8,227.0 958.8,225.5 964.9,224.0 971.0,222.5 977.1,221.0 983.2,219.5 989.2,218.0 995.3,216.5 1001.4,215.0 1007.5,213.6 1013.6,212.1 1019.7,210.6 1025.8,209.1 1031.8,207.6 1037.9,206.1 1044.0,204.6 1044.0,210.0 1037.9,211.5 1031.8,213.0 1025.8,214.4 1019.7,215.9 1013.6,217.4 1007.5,218.9 1001.4,220.4 995.3,221.8 989.2,223.3 983.2,224.8 977.1,226.3 971.0,227.8 964.9,229.2 958.8,230.7 952.8,232.2 946.7,233.7 940.6,235.2 934.5,236.6 928.4,238.1 922.3,239.6 916.2,241.0 910.2,242.3 904.1,243.7 898.0,245.0 891.9,246.4 885.8,248.0 879.8,249.6 873.7,251.2 867.6,252.8 861.5,254.4 855.4,255.9 849.3,257.5 843.2,259.1 837.2,260.6 831.1,262.0 825.0,263.5 818.9,264.9 812.8,266.3 806.8,267.8 800.7,269.2 794.6,270.6 788.5,272.1 782.4,273.5 776.3,274.8 770.2,276.1 764.2,277.4 758.1,278.6 752.0,279.9" fill="#14622f" />
<polygon points="752.0,277.7 758.1,276.5 764.2,275.2 770.2,273.9 776.3,272.7 782.4,271.3 788.5,269.9 794.6,268.4 800.7,267.0 806.8,265.6 812.8,264.1 818.9,262.7 825.0,261.2 831.1,259.8 837.2,258.3 843.2,256.9 849.3,255.3 855.4,253.7 861.5,252.1 867.6,250.5 873.7,248.9 879.8,247.3 885.8,245.7 891.9,244.1 898.0,242.8 904.1,241.4 910.2,240.0 916.2,238.7 922.3,237.3 928.4,235.8 934.5,234.3 940.6,232.8 946.7,231.3 952.8,229.8 958.8,228.4 964.9,226.9 971.0,225.4 977.1,223.9 983.2,222.4 989.2,220.9 995.3,219.5 1001.4,218.0 1007.5,216.5 1013.6,215.0 1019.7,213.5 1025.8,212.0 1031.8,210.5 1037.9,209.1 1044.0,207.6 1044.0,210.0 1037.9,211.5 1031.8,213.0 1025.8,214.4 1019.7,215.9 1013.6,217.4 1007.5,218.9 1001.4,220.4 995.3,221.8 989.2,223.3 983.2,224.8 977.1,226.3 971.0,227.8 964.9,229.2 958.8,230.7 952.8,232.2 946.7,233.7 940.6,235.2 934.5,236.6 928.4,238.1 922.3,239.6 916.2,241.0 910.2,242.3 904.1,243.7 898.0,245.0 891.9,246.4 885.8,248.0 879.8,249.6 873.7,251.2 867.6,252.8 861.5,254.4 855.4,255.9 849.3,257.5 843.2,259.1 837.2,260.6 831.1,262.0 825.0,263.5 818.9,264.9 812.8,266.3 806.8,267.8 800.7,269.2 794.6,270.6 788.5,272.1 782.4,273.5 776.3,274.8 770.2,276.1 764.2,277.4 758.1,278.6 752.0,279.9" fill="#0e4f27" opacity="0.75"/>
<polygon points="752.0,272.4 752.0,270.4 758.1,269.2 759.7,268.6 761.1,265.9 762.5,268.6 764.2,267.8 766.3,267.3 767.2,265.9 768.1,267.3 770.2,267.0 772.4,266.0 773.3,264.5 774.2,266.0 776.3,265.8 782.4,264.0 784.6,263.3 785.5,262.3 786.4,263.3 788.5,262.4 790.1,261.8 791.5,258.5 792.9,261.8 794.6,261.4 800.7,259.7 806.8,258.5 808.4,257.5 809.8,254.1 811.2,257.5 812.8,257.1 818.9,255.5 821.1,254.6 822.0,253.6 822.9,254.6 825.0,254.1 827.1,253.1 828.0,251.7 828.9,253.1 831.1,252.8 833.2,251.7 834.1,250.6 835.0,251.7 837.2,251.3 843.2,249.3 844.9,248.7 846.3,245.9 847.7,248.7 849.3,248.2 855.4,246.1 861.5,245.0 867.6,243.0 873.7,241.2 875.3,240.6 876.7,236.9 878.1,240.6 879.8,240.0 885.8,238.6 888.0,237.4 888.9,235.9 889.8,237.4 891.9,236.9 893.6,235.9 895.0,233.0 896.4,235.9 898.0,235.2 900.1,234.6 901.0,233.3 901.9,234.6 904.1,233.8 906.2,233.2 907.1,232.3 908.0,233.2 910.2,232.8 912.3,231.8 913.2,230.7 914.1,231.8 916.2,231.3 922.3,229.7 928.4,228.3 934.5,226.8 936.1,226.0 937.5,222.9 938.9,226.0 940.6,225.1 942.2,224.5 943.6,220.9 945.0,224.5 946.7,223.6 948.8,223.0 949.7,221.6 950.6,223.0 952.8,222.3 954.9,221.5 955.8,220.3 956.7,221.5 958.8,220.8 964.9,219.0 971.0,217.6 973.1,217.0 974.0,215.6 974.9,217.0 977.1,216.3 983.2,215.0 989.2,213.3 995.3,211.8 1001.4,210.5 1003.6,209.5 1004.5,208.3 1005.4,209.5 1007.5,208.8 1013.6,207.5 1019.7,206.1 1021.8,205.0 1022.7,203.8 1023.6,205.0 1025.8,204.6 1031.8,202.6 1033.5,202.0 1034.9,198.9 1036.3,202.0 1037.9,201.0 1040.1,200.5 1041.0,199.7 1041.9,200.5 1044.0,200.0 1044.0,201.7 1044.0,201.7 1037.9,203.3 1031.8,204.1 1025.8,206.1 1019.7,207.6 1013.6,208.6 1007.5,210.8 1001.4,212.3 995.3,213.2 989.2,215.3 983.2,216.3 977.1,217.9 971.0,219.8 964.9,221.2 958.8,222.1 952.8,223.8 946.7,225.4 940.6,226.7 934.5,228.1 928.4,229.7 922.3,231.6 916.2,232.4 910.2,234.2 904.1,235.5 898.0,236.5 891.9,238.1 885.8,240.0 879.8,241.5 873.7,242.7 867.6,245.1 861.5,246.6 855.4,248.3 849.3,249.2 843.2,250.9 837.2,252.2 831.1,254.3 825.0,255.3 818.9,256.6 812.8,258.3 806.8,260.2 800.7,261.6 794.6,262.6 788.5,263.9 782.4,266.1 776.3,267.1 770.2,268.5 764.2,269.2 758.1,270.5 752.0,272.3" fill="#2b0a0c" />
<polygon points="752.0,272.3 764.2,269.7 764.2,271.6 752.0,274.2" fill="#8e1a1f" opacity="0.7"/>
<polygon points="770.2,268.5 782.4,265.8 782.4,267.7 770.2,270.3" fill="#8e1a1f" opacity="0.7"/>
<polygon points="843.2,251.3 855.4,248.1 855.4,250.0 843.2,253.2" fill="#8e1a1f" opacity="0.7"/>
<polygon points="879.8,241.6 891.9,238.4 891.9,240.4 879.8,243.6" fill="#8e1a1f" opacity="0.7"/>
<polygon points="916.2,232.9 928.4,230.0 928.4,232.0 916.2,234.9" fill="#8e1a1f" opacity="0.7"/>
<polygon points="934.5,228.5 946.7,225.5 946.7,227.5 934.5,230.5" fill="#8e1a1f" opacity="0.7"/>
<polygon points="989.2,215.1 1001.4,212.1 1001.4,214.1 989.2,217.1" fill="#8e1a1f" opacity="0.7"/>
<polygon points="1007.5,210.6 1019.7,207.6 1019.7,209.6 1007.5,212.6" fill="#8e1a1f" opacity="0.7"/>
<polygon points="960.0,229.8 1044.0,209.8 1044.0,214.2 962.0,234.5" fill="#2a5ad0" />
<polygon points="750.0,268.5 760.0,267.0 775.0,266.2 792.0,264.0 792.0,273.8 772.0,277.3 753.0,277.0" fill="#6a1418" />
<polygon points="760.0,270.0 785.0,267.0 790.0,270.0 765.0,275.0" fill="#58100f" opacity="0.8"/>
<polygon points="709.5,258.5 716.0,254.8 756.0,266.0 751.0,271.0" fill="#150c0c" />
<polygon points="709.5,258.5 751.0,271.0 751.0,276.5 709.5,264.0" fill="#10331c" />
<polygon points="709.5,258.5 716.0,254.8 720.0,256.0 713.0,260.0" fill="#4a1012" />
<polygon points="997.5,199.0 999.5,198.5 999.8,205.5 997.2,205.5" fill="#10203c" />
</g>

<!-- callouts -->
<g id="callouts">
<path d="M547.3 236.8 H594.3 Q598.8 236.8 598.8 241.3 V269.6 Q598.8 274.1 594.3 274.1 H547.3 Q542.8 274.1 542.8 269.6 V268.9 L515.2 269.8 L542.8 259.7 V241.3 Q542.8 236.8 547.3 236.8 Z" fill="#fff" stroke="#1c2a1c" stroke-width="1.4" stroke-linejoin="round"/>
<text x="570.7" y="263.4" class="serif b" font-size="20.3" text-anchor="middle" fill="#0a0a0a">High</text>
<path d="M316 316.4 H344.2 L353 296.6 L358.6 316.4 H360.6 Q365.4 316.4 365.4 321.2 V348.5 Q365.4 353.3 360.6 353.3 H316 Q311.2 353.3 311.2 348.5 V321.2 Q311.2 316.4 316 316.4 Z" fill="#fff" stroke="#222" stroke-width="1.35" stroke-linejoin="round"/>
<text x="338.5" y="342.5" class="serif b" font-size="20.6" text-anchor="middle" fill="#0a0a0a">Low</text>
</g>

<!-- legend -->
<g id="legend">
<text x="943.3" y="261.5" class="serif b" font-size="15" fill="#111">Point cloud elevation (m)</text>
<rect x="954.6" y="276.5" width="9.4" height="9.4" fill="#0c0c0c"/>
<text x="983.3" y="285.5" class="serif b" font-size="12.4" fill="#111">86.10- 837.11</text>
<rect x="954.6" y="300.3" width="9.4" height="9.4" fill="#cfcfcf"/>
<text x="983.3" y="309.3" class="serif b" font-size="12.4" fill="#111">74.64 - 86.10</text>
<rect x="954.6" y="324.1" width="9.4" height="9.4" fill="#b32028"/>
<text x="983.3" y="333.1" class="serif b" font-size="12.4" fill="#111">63.17 - 74.64</text>
<rect x="954.6" y="347.9" width="9.4" height="9.4" fill="#ad7a2c"/>
<text x="983.3" y="356.9" class="serif b" font-size="12.4" fill="#111">51.71 - 63.17</text>
<rect x="954.6" y="371.7" width="9.4" height="9.4" fill="#eea024"/>
<text x="983.3" y="380.7" class="serif b" font-size="12.4" fill="#111">40.24 - 51.71</text>
<rect x="954.6" y="395.5" width="9.4" height="9.4" fill="#a6a534"/>
<text x="983.3" y="404.5" class="serif b" font-size="12.4" fill="#111">28.78 - 40.24</text>
<rect x="954.6" y="419.3" width="9.4" height="9.4" fill="#e21e2a"/>
<text x="983.3" y="428.3" class="serif b" font-size="12.4" fill="#111">17.31 - 28.78</text>
<rect x="954.6" y="443.1" width="9.4" height="9.4" fill="#a3d66e"/>
<text x="983.3" y="452.1" class="serif b" font-size="12.4" fill="#111">5.85 - 17.31</text>
<rect x="954.6" y="466.9" width="9.4" height="9.4" fill="#28a2e2"/>
<text x="983.3" y="475.9" class="serif b" font-size="12.4" fill="#111">-10.48 - 5.85</text>
</g>

<text x="571.3" y="465" class="serif" font-size="15" text-anchor="middle" fill="#2a2a2a">1:25000</text>

<!-- ================= PANEL B ================= -->
<text x="9" y="523" class="sans b" font-size="28" fill="#000">B</text>
<g id="hist">
<polygon points="129.0,1111.0 130.5,1090.0 132.0,1070.0 134.0,1040.0 136.0,1000.0 137.0,965.0 137.6,962.0 138.3,975.0 140.5,1015.0 143.0,1000.0 146.0,975.0 150.5,929.6 152.5,880.0 154.6,827.0 155.0,820.0 157.6,697.0 159.4,621.0 162.0,596.0 162.8,596.0 163.0,556.0 163.6,556.0 164.0,590.0 165.0,575.0 166.5,550.0 168.5,529.6 169.3,535.0 170.3,548.0 171.8,566.0 173.3,583.0 179.6,646.6 186.0,722.5 191.0,773.0 195.0,800.0 197.3,820.0 200.0,832.0 202.4,840.5 204.6,832.0 204.8,805.0 205.4,805.0 205.8,826.0 207.5,822.0 210.0,827.0 212.0,832.0 213.8,826.0 214.2,812.0 214.8,812.0 215.2,828.0 216.7,835.0 218.0,829.0 219.4,827.0 221.0,830.0 222.0,840.5 224.8,873.0 226.3,870.0 226.5,854.0 227.1,854.0 227.4,874.0 228.8,878.0 231.5,889.0 233.0,925.0 234.2,962.0 236.0,990.0 238.3,1016.0 241.0,1038.0 243.7,1056.6 246.0,1066.0 248.3,1073.0 250.0,1083.0 251.8,1091.7 255.0,1099.0 260.0,1105.0 265.0,1108.0 272.0,1109.2 300.0,1109.5 335.0,1109.8 345.0,1111.0" fill="#443a98" />
<polygon points="528.0,1111.0 533.0,1109.0 537.0,1106.0 540.0,1103.0 541.5,1102.7 543.5,1104.0 546.0,1107.0 552.0,1108.0 558.0,1107.3 564.5,1106.0 570.0,1107.0 576.0,1109.0 590.0,1109.3 598.0,1108.5 599.5,1100.0 601.0,1098.5 602.0,1100.0 603.0,1098.7 604.5,1106.0 610.0,1107.5 615.5,1106.0 617.5,1099.0 619.0,1097.0 620.5,1100.0 622.0,1106.5 628.0,1108.5 634.0,1108.5 638.6,1107.5 643.0,1109.3 650.0,1109.8 653.8,1108.8 657.0,1110.0 662.0,1111.0" fill="#443a98" />
<polygon points="829.0,1111.0 832.0,1109.5 834.0,1108.8 836.5,1109.5 839.0,1111.0" fill="#443a98" />
<polygon points="704.0,1111.0 708.0,1110.0 714.0,1111.0" fill="#443a98" />
<line x1="66.0" y1="523.2" x2="1116.3" y2="523.2" stroke="#5e5e5e" stroke-width="1.5"/>
<line x1="66.0" y1="522.5" x2="66.0" y2="1112" stroke="#a4a4a4" stroke-width="1.8"/>
<line x1="1115.5" y1="522.5" x2="1115.5" y2="1112" stroke="#1c1c1c" stroke-width="1.7"/>
<line x1="65.1" y1="1111.1" x2="1116.3" y2="1111.1" stroke="#66619a" stroke-width="2.1"/>
<line x1="171" y1="523.2" x2="171" y2="537.2" stroke="#222" stroke-width="1.2"/>
<line x1="347.7" y1="523.2" x2="347.7" y2="537.2" stroke="#e2e2e2" stroke-width="1.2"/>
<line x1="524.5" y1="523.2" x2="524.5" y2="537.2" stroke="#bdbdbd" stroke-width="1.2"/>
<line x1="701.3" y1="523.2" x2="701.3" y2="537.2" stroke="#666" stroke-width="1.2"/>
<line x1="877.5" y1="523.2" x2="877.5" y2="537.2" stroke="#666" stroke-width="1.2"/>
<line x1="1055.2" y1="523.2" x2="1055.2" y2="537.2" stroke="#444" stroke-width="1.2"/>
<line x1="347.7" y1="1097.5" x2="347.7" y2="1111" stroke="#e4e4ec" stroke-width="1.2"/>
<line x1="524.5" y1="1097.5" x2="524.5" y2="1111" stroke="#333" stroke-width="1.2"/>
<line x1="701.3" y1="1097.5" x2="701.3" y2="1111" stroke="#333" stroke-width="1.2"/>
<line x1="877.5" y1="1097.5" x2="877.5" y2="1111" stroke="#444" stroke-width="1.2"/>
<line x1="1055.2" y1="1097.5" x2="1055.2" y2="1111" stroke="#333" stroke-width="1.2"/>
<line x1="66.0" y1="676" x2="80.5" y2="676" stroke="#222" stroke-width="1.15"/>
<line x1="66.0" y1="762.8" x2="80.5" y2="762.8" stroke="#c4c4c4" stroke-width="1.15"/>
<line x1="66.0" y1="849.6" x2="80.5" y2="849.6" stroke="#b8b8b8" stroke-width="1.15"/>
<line x1="66.0" y1="937" x2="80.5" y2="937" stroke="#666" stroke-width="1.15"/>
<line x1="66.0" y1="1023.5" x2="80.5" y2="1023.5" stroke="#777" stroke-width="1.15"/>
<text x="61.9" y="604.6" class="serif b" font-size="22" text-anchor="end" fill="#0c0c0c">8</text>
<text x="61.9" y="682.3" class="serif b" font-size="22" text-anchor="end" fill="#0c0c0c">5</text>
<text x="61.9" y="773.1" class="serif b" font-size="22" text-anchor="end" fill="#0c0c0c">4</text>
<text x="61.9" y="858.3" class="serif b" font-size="22" text-anchor="end" fill="#0c0c0c">3</text>
<text x="61.9" y="945.7" class="serif b" font-size="22" text-anchor="end" fill="#0c0c0c">2</text>
<text x="61.9" y="1033.3" class="serif b" font-size="22" text-anchor="end" fill="#0c0c0c">1</text>
<text x="57.6" y="1122.2" class="serif b" font-size="17.6" text-anchor="middle" fill="#0c0c0c">0</text>
<text x="184.9" y="1128.5" class="serif b" font-size="18.5" text-anchor="middle" fill="#0c0c0c">10</text>
<text x="348.7" y="1130" class="serif b" font-size="18.5" text-anchor="middle" fill="#0c0c0c">15</text>
<text x="878.2" y="1131.6" class="serif b" font-size="18.5" text-anchor="middle" fill="#0c0c0c">30</text>
<text x="1056" y="1130" class="serif b" font-size="18.5" text-anchor="middle" fill="#0c0c0c">35</text>
<text x="64.6" y="520.2" class="sans b" font-size="17" fill="#111" stroke="#111" stroke-width="0.35">x10</text>
<text x="95.8" y="510.2" class="sans b" font-size="12.8" fill="#111" stroke="#111" stroke-width="0.3" textLength="4.8" lengthAdjust="spacingAndGlyphs">4</text>
<text x="618.8" y="1155.7" class="serif" font-size="30.8" text-anchor="middle" fill="#1c1c1c">Point cloud elevation</text>
<text transform="translate(25.2 810.5) rotate(-90)" class="serif" font-size="30.5" text-anchor="middle" fill="#2a2a2a">Frequency</text>
</g>
</svg>
</body>
</html>
